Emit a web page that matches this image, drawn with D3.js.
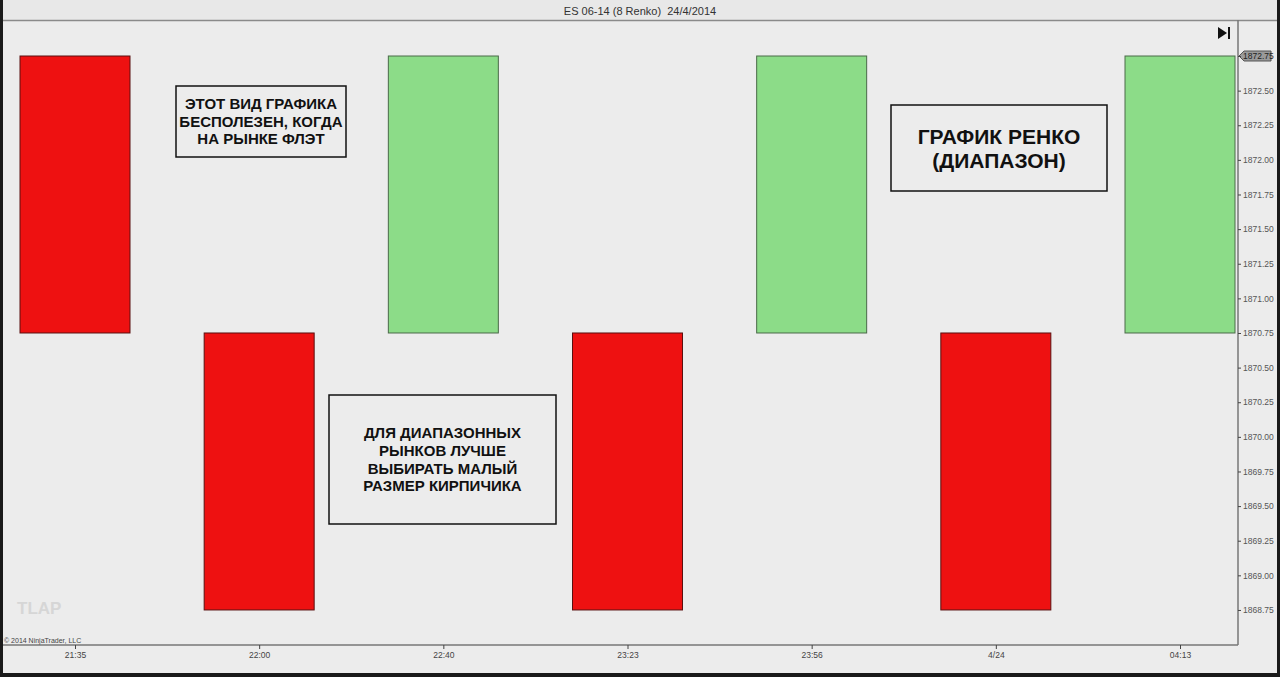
<!DOCTYPE html>
<html>
<head>
<meta charset="utf-8">
<script src="https://cdn.jsdelivr.net/npm/d3@7"></script>
<style>
  body { margin: 0; background: #1a1a1a; }
  svg { display: block; font-family: "Liberation Sans", Arial, sans-serif; }
</style>
</head>
<body>
<svg id="chart" width="1280" height="677"></svg>
<script>
// renko bricks, one per time label
var times  = ["21:35", "22:00", "22:40", "23:23", "23:56", "4/24", "04:13"];
var opens  = [1872.75, 1870.75, 1870.75, 1870.75, 1870.75, 1870.75, 1870.75];
var closes = [1870.75, 1868.75, 1872.75, 1868.75, 1872.75, 1868.75, 1872.75];
var priceTicks = [1872.75, 1872.50, 1872.25, 1872.00, 1871.75, 1871.50, 1871.25, 1871.00,
                  1870.75, 1870.50, 1870.25, 1870.00, 1869.75, 1869.50, 1869.25, 1869.00, 1868.75];
var lastPrice = 1872.75;

var notes = [
  {lines: ["ЭТОТ ВИД ГРАФИКА", "БЕСПОЛЕЗЕН, КОГДА", "НА РЫНКЕ ФЛЭТ"], x: 176, y: 86, w: 170, h: 71, size: 15, lh: 17.5},
  {lines: ["ДЛЯ ДИАПАЗОННЫХ", "РЫНКОВ ЛУЧШЕ", "ВЫБИРАТЬ МАЛЫЙ", "РАЗМЕР КИРПИЧИКА"], x: 329, y: 395, w: 227, h: 129, size: 15, lh: 17.7},
  {lines: ["ГРАФИК РЕНКО", "(ДИАПАЗОН)"], x: 891, y: 105, w: 216, h: 86, size: 21, lh: 24}
];

var svg = d3.select("#chart");
var plot = {left: 3, right: 1238, top: 20, bottom: 645};

// frame + background
svg.append("rect").attr("x", 3).attr("y", 0).attr("width", 1274).attr("height", 673).attr("fill", "#ececec");
svg.append("rect").attr("x", 3).attr("y", 0).attr("width", 1274).attr("height", 20).attr("fill", "#e8e8e8");
svg.append("line").attr("x1", 3).attr("x2", 1277).attr("y1", 20.5).attr("y2", 20.5)
  .attr("stroke", "#8a8a8a").attr("stroke-width", 1.5);

svg.append("text").attr("x", 640).attr("y", 15).attr("text-anchor", "middle")
  .attr("font-size", 11).attr("fill", "#333").style("white-space", "pre")
  .text("ES 06-14 (8 Renko)  24/4/2014");

var x = d3.scalePoint().domain(times).range([75, 1180]);
var y = d3.scaleLinear().domain([1868.497, 1873.01]).range([plot.bottom, plot.top]);
var barW = 110;

// watermark and copyright
svg.append("text").attr("x", 17).attr("y", 614).attr("font-size", 17).attr("font-weight", "bold")
  .attr("fill", "#d6d6d6").text("TLAP");
svg.append("text").attr("x", 4).attr("y", 643).attr("font-size", 7).attr("fill", "#444")
  .text("© 2014 NinjaTrader, LLC");

// bricks
svg.selectAll(".brick")
  .data(times)
  .enter()
  .append("rect")
  .attr("class", "brick")
  .attr("x", function(d) { return x(d) - barW / 2; })
  .attr("y", function(d, i) { return y(Math.max(opens[i], closes[i])); })
  .attr("width", barW)
  .attr("height", function(d, i) { return Math.abs(y(opens[i]) - y(closes[i])); })
  .attr("fill", function(d, i) { return closes[i] > opens[i] ? "#8cdc88" : "#ee1111"; })
  .attr("stroke", function(d, i) { return closes[i] > opens[i] ? "#4a6a48" : "#5a1010"; })
  .attr("stroke-width", 1);

// right price axis
var yAxis = svg.append("g")
  .attr("transform", "translate(" + plot.right + ",0)")
  .call(d3.axisRight(y).tickValues(priceTicks).tickSize(3).tickPadding(2).tickFormat(d3.format(".2f")));
yAxis.select(".domain").attr("d", "M0," + plot.top + "V" + plot.bottom).attr("stroke", "#777").attr("stroke-width", 1.5);
yAxis.selectAll(".tick line").attr("stroke", "#444");
yAxis.selectAll(".tick text").attr("font-size", 8.5).attr("fill", "#555");
yAxis.selectAll(".tick").filter(function(d) { return d === lastPrice; }).select("text").attr("fill", "#222");

// last price marker
var ly = y(lastPrice);
svg.insert("path", "g")
  .attr("d", "M1239," + ly + "L1244," + (ly - 5) + "H1271V" + (ly + 5) + "H1244Z")
  .attr("fill", "#9a9a9a").attr("stroke", "#555");

// bottom time axis
var xAxis = svg.append("g")
  .attr("transform", "translate(0," + plot.bottom + ")")
  .call(d3.axisBottom(x).tickSize(4).tickPadding(3));
xAxis.select(".domain").attr("d", "M" + plot.left + ",0H" + plot.right).attr("stroke", "#777").attr("stroke-width", 1.5);
xAxis.selectAll(".tick line").attr("stroke", "#444");
xAxis.selectAll(".tick text").attr("font-size", 8.5).attr("fill", "#444");

// scroll-to-end icon
svg.append("path").attr("d", "M1218,27L1227,33L1218,39Z").attr("fill", "#111");
svg.append("rect").attr("x", 1228).attr("y", 27).attr("width", 2).attr("height", 12).attr("fill", "#111");

// annotation boxes
var note = svg.selectAll(".note").data(notes).enter().append("g").attr("class", "note");
note.append("rect")
  .attr("x", function(d) { return d.x; }).attr("y", function(d) { return d.y; })
  .attr("width", function(d) { return d.w; }).attr("height", function(d) { return d.h; })
  .attr("fill", "none").attr("stroke", "#111").attr("stroke-width", 1.5);
note.each(function(d) {
  var g = d3.select(this);
  var top = d.y + d.h / 2 - (d.lines.length - 1) * d.lh / 2 + d.size * 0.36;
  d.lines.forEach(function(line, i) {
    g.append("text")
      .attr("x", d.x + d.w / 2)
      .attr("y", top + i * d.lh)
      .attr("text-anchor", "middle")
      .attr("font-size", d.size)
      .attr("font-weight", "bold")
      .attr("fill", "#111")
      .text(line);
  });
});
</script>
</body>
</html>
